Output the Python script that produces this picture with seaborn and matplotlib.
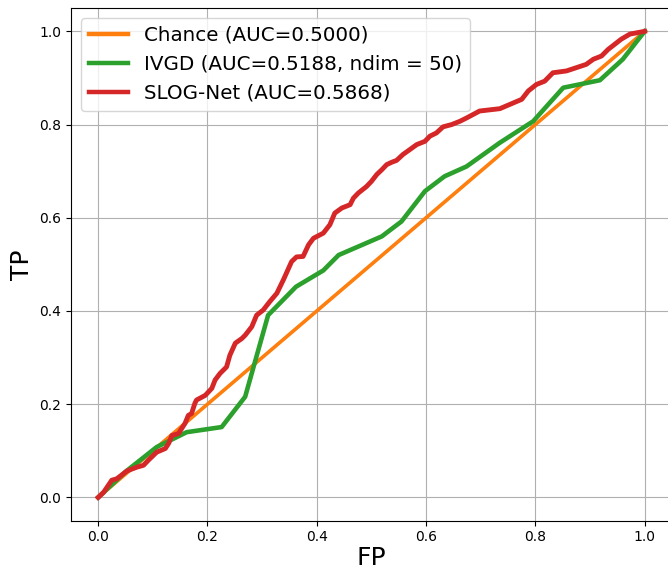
import numpy as np
import pandas as pd
import matplotlib
matplotlib.use('Agg')
import matplotlib.pyplot as plt
import seaborn as sns

# ROC points
chance_fp = [0.0, 1.0]
chance_tp = [0.0, 1.0]

ivgd_fp = [0.0, 0.05, 0.107, 0.162, 0.226, 0.269, 0.311, 0.362, 0.412, 0.440,
           0.519, 0.555, 0.598, 0.634, 0.674, 0.735, 0.796, 0.851, 0.918, 0.960, 1.0]
ivgd_tp = [0.0, 0.055, 0.108, 0.140, 0.151, 0.216, 0.391, 0.452, 0.487, 0.520,
           0.560, 0.592, 0.657, 0.689, 0.710, 0.761, 0.807, 0.879, 0.895, 0.940, 1.0]

slog_fp = [0.0, 0.010, 0.025, 0.034, 0.053, 0.071, 0.083, 0.092, 0.107, 0.123,
           0.129, 0.135, 0.147, 0.159, 0.165, 0.171, 0.177, 0.180, 0.196, 0.208,
           0.214, 0.223, 0.235, 0.241, 0.251, 0.263, 0.269, 0.281, 0.290, 0.302,
           0.314, 0.327, 0.339, 0.354, 0.363, 0.375, 0.385, 0.394, 0.412, 0.424,
           0.433, 0.446, 0.461, 0.467, 0.476, 0.491, 0.500, 0.510, 0.519, 0.528,
           0.537, 0.546, 0.558, 0.570, 0.583, 0.598, 0.607, 0.619, 0.631, 0.647,
           0.662, 0.674, 0.698, 0.735, 0.753, 0.775, 0.787, 0.802, 0.817, 0.832,
           0.857, 0.875, 0.893, 0.906, 0.921, 0.933, 0.945, 0.957, 0.973, 1.0]
slog_tp = [0.0, 0.011, 0.037, 0.040, 0.057, 0.065, 0.069, 0.080, 0.097, 0.105,
           0.116, 0.133, 0.137, 0.159, 0.176, 0.180, 0.202, 0.209, 0.219, 0.234,
           0.252, 0.266, 0.280, 0.305, 0.331, 0.341, 0.348, 0.366, 0.391, 0.402,
           0.420, 0.438, 0.467, 0.506, 0.516, 0.517, 0.542, 0.556, 0.567, 0.585,
           0.610, 0.621, 0.628, 0.642, 0.653, 0.667, 0.678, 0.693, 0.703, 0.714,
           0.719, 0.723, 0.736, 0.746, 0.757, 0.764, 0.775, 0.782, 0.795, 0.800,
           0.807, 0.814, 0.829, 0.834, 0.843, 0.854, 0.872, 0.886, 0.893, 0.911,
           0.915, 0.922, 0.929, 0.940, 0.947, 0.961, 0.972, 0.983, 0.994, 1.0]

labels = ['Chance (AUC=0.5000)', 'IVGD (AUC=0.5188, ndim = 50)', 'SLOG-Net (AUC=0.5868)']

chance = pd.DataFrame({'FP': chance_fp, 'TP': chance_tp})
ivgd = pd.DataFrame({'FP': ivgd_fp, 'TP': ivgd_tp})
slog = pd.DataFrame({'FP': slog_fp, 'TP': slog_tp})

fig = plt.figure(figsize=(6.68, 5.71), dpi=100)
ax = fig.add_axes([0.106, 0.088, 0.900, 0.898])

# thin diagonal underneath the chance line
sns.lineplot(data=chance, x='FP', y='TP', ax=ax, color='C0', linewidth=1.5, sort=False, estimator=None)
sns.lineplot(data=chance, x='FP', y='TP', ax=ax, color='C1', linewidth=2.6, sort=False,
             estimator=None, label=labels[0])
sns.lineplot(data=ivgd, x='FP', y='TP', ax=ax, color='C2', linewidth=3.3, sort=False,
             estimator=None, label=labels[1])
sns.lineplot(data=slog, x='FP', y='TP', ax=ax, color='C3', linewidth=3.5, sort=False,
             estimator=None, label=labels[2])

ax.set_xlim(-0.05, 1.05)
ax.set_ylim(-0.05, 1.05)
ax.set_xticks(np.arange(0, 1.01, 0.2))
ax.set_yticks(np.arange(0, 1.01, 0.2))
ax.grid(True)
ax.set_xlabel('FP', fontsize=18, labelpad=1)
ax.set_ylabel('TP', fontsize=18)
leg = ax.legend(loc='upper left', fontsize=14.3)
for line in leg.get_lines():
    line.set_linewidth(3.2)

fig.savefig('out.png', dpi=100)
